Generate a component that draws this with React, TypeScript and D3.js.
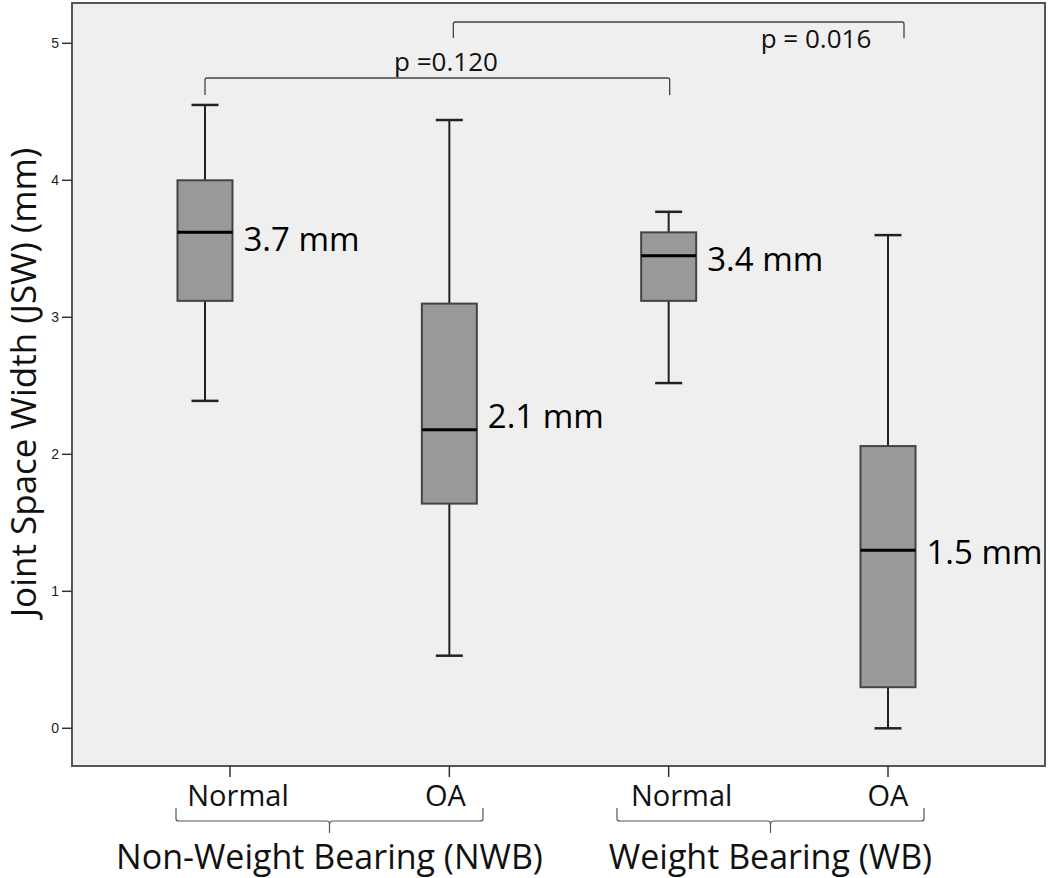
import React from "react";
import * as d3 from "d3";

// ---- data ----
const categories = ["Normal", "OA", "Normal", "OA"];
const groups = ["Non-Weight Bearing (NWB)", "Weight Bearing (WB)"];
const boxPos = [-0.114, 1.0, 2.0, 3.0];
const whiskerHigh = [4.55, 4.44, 3.77, 3.6];
const q3 = [4.0, 3.1, 3.62, 2.06];
const median = [3.62, 2.18, 3.45, 1.3];
const q1 = [3.12, 1.64, 3.12, 0.3];
const whiskerLow = [2.39, 0.53, 2.52, 0.0];
const medianLabels = ["3.7 mm", "2.1 mm", "3.4 mm", "1.5 mm"];
const yTicks = [0, 1, 2, 3, 4, 5];
const compFrom = [0, 1];
const compTo = [2, 3];
const compLabels = ["p =0.120", "p = 0.016"];

// ---- layout ----
const W = 1050;
const H = 878;
const plot = { left: 72, right: 1045, top: 3, bottom: 766 };
const FONT = "'Open Sans', 'Liberation Sans', sans-serif";

export default function App() {
  const x = d3.scaleLinear().domain([0, 3]).range([230, 888]);
  const y = d3.scaleLinear().domain([0, 5]).range([728.3, 43.3]);
  const boxW = 55;
  const capW = 27;
  const labelDy = [19, -2, 15, 14];
  const catLabelDx = [8, -4, 13, 0];
  const compY = [78, 22];
  const compDrop = [17, 16];
  const compEndDx = [[0, 1], [4, 16]];
  const compTextX = [446, 816];
  const compTextY = [71, 48];

  const braceSpans = [
    [176, 483],
    [617, 924],
  ];

  return (
    <svg
      width={W}
      height={H}
      style={{ position: "absolute", left: 0, top: 0, background: "#ffffff" }}
      fontFamily={FONT}
    >
      {/* plot area */}
      <rect
        x={plot.left}
        y={plot.top}
        width={plot.right - plot.left}
        height={plot.bottom - plot.top}
        fill="#efefef"
        stroke="#555"
        strokeWidth={2}
      />

      {/* y axis ticks */}
      {yTicks.map((t) => (
        <g key={t}>
          <line x1={62} x2={plot.left} y1={y(t)} y2={y(t)} stroke="#333" strokeWidth={1.5} />
          <text
            x={59}
            y={y(t)}
            dy="0.35em"
            textAnchor="end"
            fontSize={14}
            fontFamily="'Liberation Sans', Arial, sans-serif"
            fill="#222"
          >
            {t}
          </text>
        </g>
      ))}

      {/* y axis title */}
      <text
        transform={`translate(36, ${(148 + 617) / 2}) rotate(-90)`}
        textAnchor="middle"
        fontSize={35}
        fill="#111"
      >
        Joint Space Width (JSW) (mm)
      </text>

      {/* x axis ticks and labels */}
      {categories.map((c, i) => (
        <g key={"xt" + i}>
          <line x1={x(i)} x2={x(i)} y1={plot.bottom} y2={plot.bottom + 11} stroke="#333" strokeWidth={1.5} />
          <text x={x(i) + catLabelDx[i]} y={806} textAnchor="middle" fontSize={29} fill="#111">
            {c}
          </text>
        </g>
      ))}

      {/* braces */}
      {braceSpans.map(([a, b], i) => {
        const mid = (a + b) / 2;
        const top = 808;
        const line = 821;
        const p = d3.path();
        p.moveTo(a, top);
        p.lineTo(a, line - 2);
        p.quadraticCurveTo(a, line, a + 3, line);
        p.lineTo(mid - 3, line);
        p.quadraticCurveTo(mid, line, mid, line + 3);
        p.lineTo(mid, 833);
        p.moveTo(mid, line + 3);
        p.quadraticCurveTo(mid, line, mid + 3, line);
        p.lineTo(b - 3, line);
        p.quadraticCurveTo(b, line, b, line - 2);
        p.lineTo(b, top);
        return <path key={"br" + i} d={p.toString()} fill="none" stroke="#555" strokeWidth={1.2} />;
      })}
      {groups.map((g, i) => (
        <text
          key={"g" + i}
          x={(braceSpans[i][0] + braceSpans[i][1]) / 2}
          y={869}
          textAnchor="middle"
          fontSize={34}
          fill="#111"
        >
          {g}
        </text>
      ))}

      {/* boxes */}
      {categories.map((c, i) => {
        const cx = x(boxPos[i]);
        return (
          <g key={"b" + i}>
            <line x1={cx} x2={cx} y1={y(whiskerHigh[i])} y2={y(q3[i])} stroke="#222" strokeWidth={2} />
            <line x1={cx} x2={cx} y1={y(q1[i])} y2={y(whiskerLow[i])} stroke="#222" strokeWidth={2} />
            <line
              x1={cx - capW / 2}
              x2={cx + capW / 2}
              y1={y(whiskerHigh[i])}
              y2={y(whiskerHigh[i])}
              stroke="#222"
              strokeWidth={2.5}
            />
            <line
              x1={cx - capW / 2}
              x2={cx + capW / 2}
              y1={y(whiskerLow[i])}
              y2={y(whiskerLow[i])}
              stroke="#222"
              strokeWidth={2.5}
            />
            <rect
              x={cx - boxW / 2}
              y={y(q3[i])}
              width={boxW}
              height={y(q1[i]) - y(q3[i])}
              fill="#999999"
              stroke="#444"
              strokeWidth={2}
            />
            <line
              x1={cx - boxW / 2}
              x2={cx + boxW / 2}
              y1={y(median[i])}
              y2={y(median[i])}
              stroke="#000"
              strokeWidth={3}
            />
            <text
              x={cx + boxW / 2 + 11}
              y={y(median[i]) + labelDy[i]}
              fontSize={33}
              fill="#000"
            >
              {medianLabels[i]}
            </text>
          </g>
        );
      })}

      {/* comparison brackets */}
      {compLabels.map((lab, k) => {
        const x1 = x(boxPos[compFrom[k]]) + compEndDx[k][0];
        const x2 = x(boxPos[compTo[k]]) + compEndDx[k][1];
        const yy = compY[k];
        const p = d3.path();
        p.moveTo(x1, yy + compDrop[k]);
        p.lineTo(x1, yy + 2);
        p.quadraticCurveTo(x1, yy, x1 + 2, yy);
        p.lineTo(x2 - 2, yy);
        p.quadraticCurveTo(x2, yy, x2, yy + 2);
        p.lineTo(x2, yy + compDrop[k]);
        return (
          <g key={"c" + k}>
            <path d={p.toString()} fill="none" stroke="#444" strokeWidth={1.3} />
            <text x={compTextX[k]} y={compTextY[k]} textAnchor="middle" fontSize={26} fill="#111">
              {lab}
            </text>
          </g>
        );
      })}
    </svg>
  );
}
